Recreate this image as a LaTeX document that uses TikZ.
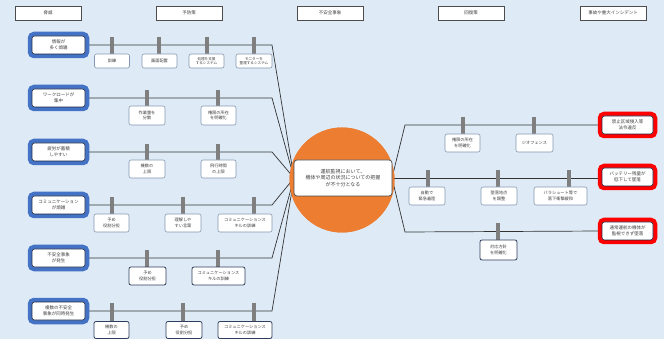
\documentclass[tikz,border=0pt]{standalone}
\usepackage{fontspec}
\setmainfont{Noto Sans CJK JP}
\usetikzlibrary{shadows}
\definecolor{bgC}{HTML}{DEEAF6}
\definecolor{blueC}{HTML}{4472C4}
\definecolor{redC}{HTML}{FF0000}
\definecolor{navyC}{HTML}{1F2A44}
\definecolor{orangeC}{HTML}{ED7D31}
\definecolor{barC}{HTML}{8497B0}
\definecolor{barD}{HTML}{2F3E5C}
\definecolor{txtC}{HTML}{404040}
\definecolor{stubC}{HTML}{7F7F7F}
\pgfdeclarelayer{bg}
\pgfsetlayers{bg,main}
\begin{document}
\begin{tikzpicture}[x=1pt,y=-1pt,
  every node/.style={inner sep=0pt, outer sep=0pt, align=center, text=txtC},
  hdr/.style={draw=black!70, fill=white, minimum width=66pt, minimum height=14pt,
    font=\fontsize{4.5}{5}\selectfont,
    drop shadow={shadow xshift=0.8pt, shadow yshift=-0.8pt, opacity=0.35}},
  threat/.style={fill=white, draw=navyC, line width=0.6pt, rounded corners=2.5pt,
    minimum width=53pt, minimum height=18pt, font=\fontsize{4.5}{6}\selectfont,
    preaction={draw=blueC, line width=8.5pt}},
  cons/.style={fill=white, draw=navyC, line width=0.6pt, rounded corners=2.5pt,
    minimum width=51pt, minimum height=18pt, font=\fontsize{4.5}{6}\selectfont,
    preaction={draw=redC, line width=8.5pt}},
  barrier/.style={fill=white, draw=barC, line width=0.6pt, rounded corners=2pt,
    minimum height=18pt, font=\fontsize{4.2}{5.8}\selectfont},
  barrierd/.style={barrier, draw=barD, line width=0.8pt},
  tline/.style={draw=black!80, line width=0.7pt},
  stub/.style={draw=stubC, line width=3.6pt}
]
\useasboundingbox (0,0) rectangle (664,339);

% headers
\node[hdr] (h1) at (48,13) {脅威};
\node[hdr] (h2) at (189,13) {予防策};
\node[hdr] (h3) at (330,13) {不安全事象};
\node[hdr] (h4) at (471,13) {回復策};
\node[hdr] (h5) at (613,13) {事故や重大インシデント};

% center
\node[circle, fill=orangeC, minimum size=105pt] (blob) at (342,180) {};
\node[fill=white, draw=black!70, line width=0.7pt, rounded corners=3pt,
  minimum width=98pt, minimum height=36pt, font=\fontsize{5}{6.5}\selectfont]
  (cbox) at (343,178) {運航監視において、\\機体や周辺の状況についての把握\\が不十分となる};

% threats
\node[threat] (t1) at (58.5,45) {情報が\\多く煩雑};
\node[threat] (t2) at (58.5,98) {ワークロードが\\集中};
\node[threat] (t3) at (58.5,152) {疲労が蓄積\\しやすい};
\node[threat] (t4) at (58.5,205) {コミュニケーション\\が煩雑};
\node[threat] (t5) at (58.5,258) {不安全事象\\が発生};
\node[threat] (t6) at (58.5,311) {複数の不安全\\事象が同時発生};

% left barriers
\node[barrier, minimum width=35pt, minimum height=14pt] (b11) at (112,61) {訓練};
\node[barrier, minimum width=35pt, minimum height=14pt] (b12) at (159.5,61) {画面配置};
\node[barrier, minimum width=35pt, minimum height=14pt, font=\fontsize{3.6}{4.6}\selectfont] (b13) at (206.5,61) {処理を支援\\するシステム};
\node[barrier, minimum width=36pt, minimum height=14pt, font=\fontsize{3.6}{4.6}\selectfont] (b14) at (254,61) {モニターを\\整理するシステム};

\node[barrier, minimum width=36pt, minimum height=19pt] (b21) at (147,115.5) {作業量を\\分散};
\node[barrier, minimum width=35pt, minimum height=19pt] (b22) at (218.5,115.5) {権限の所在\\を明確化};

\node[barrier, minimum width=36pt] (b31) at (147,169) {機数の\\上限};
\node[barrier, minimum width=35pt] (b32) at (218.5,169) {飛行時間\\の上限};

\node[barrier, minimum width=35pt] (b41) at (111.5,223) {予め\\役割分担};
\node[barrier, minimum width=36pt] (b42) at (183,223) {理解しや\\すい言葉};
\node[barrier, minimum width=54pt] (b43) at (245,223) {コミュニケーションス\\キルの訓練};

\node[barrierd, minimum width=37pt] (b51) at (147.5,276) {予め\\役割分担};
\node[barrierd, minimum width=53pt] (b52) at (218.5,276) {コミュニケーションス\\キルの訓練};

\node[barrierd, minimum width=35pt, minimum height=17pt] (b61) at (111.5,330) {機数の\\上限};
\node[barrierd, minimum width=36pt, minimum height=17pt] (b62) at (184,330) {予め\\役割分担};
\node[barrierd, minimum width=54pt, minimum height=17pt] (b63) at (245,330) {コミュニケーションス\\キルの訓練};

% right barriers
\node[barrier, minimum width=35pt] (r11) at (462.5,143) {権限の所在\\を明確化};
\node[barrier, minimum width=37pt] (r12) at (534.5,143) {ジオフェンス};
\node[barrier, minimum width=36pt] (r21) at (427,196) {自動で\\緊急着陸};
\node[barrier, minimum width=36pt] (r22) at (499,196) {墜落地点\\を調整};
\node[barrier, minimum width=53pt] (r23) at (560.5,196) {パラシュート等で\\落下衝撃緩和};
\node[barrierd, minimum width=37pt, minimum height=20pt] (r31) at (498.5,250) {対応方針\\を明確化};

% consequences
\node[cons] (c1) at (627.5,125) {禁止区域侵入等\\法令違反};
\node[cons] (c2) at (627.5,177) {バッテリー残量が\\低下して墜落};
\node[cons] (c3) at (627.5,231) {通常運航の機体が\\監視できず墜落};

% helper coordinates
\coordinate (k1) at (272,45);
\coordinate (k2) at (272,98);
\coordinate (k3) at (272,152);
\coordinate (k4) at (272,205);
\coordinate (k5) at (272,258);
\coordinate (k6) at (272,311);
\coordinate (kr1) at (405,125);
\coordinate (kr3) at (405,232);

\coordinate (s11) at (112,37);  \coordinate (s12) at (159,37);
\coordinate (s13) at (207,37);  \coordinate (s14) at (254,37);
\coordinate (s21) at (147,90);  \coordinate (s22) at (218,90);
\coordinate (s31) at (147,144); \coordinate (s32) at (218,144);
\coordinate (s41) at (112,197); \coordinate (s42) at (183,197); \coordinate (s43) at (254,197);
\coordinate (s51) at (147,250); \coordinate (s52) at (218,250);
\coordinate (s61) at (112,303); \coordinate (s62) at (183,303); \coordinate (s63) at (254,303);
\coordinate (q11) at (463,117); \coordinate (q12) at (534,117);
\coordinate (q21) at (428,170); \coordinate (q22) at (498,170); \coordinate (q23) at (569,170);
\coordinate (q31) at (498,223);

\begin{pgfonlayer}{bg}
\fill[bgC] (0,0) rectangle (664,339);
\fill[orangeC] (blob.center) circle[radius=52.5pt];
\draw[tline] (t1.east) -- (k1) -- (cbox.west);
\draw[tline] (t2.east) -- (k2) -- (cbox.west);
\draw[tline] (t3.east) -- (k3) -- (cbox.west);
\draw[tline] (t4.east) -- (k4) -- (cbox.west);
\draw[tline] (t5.east) -- (k5) -- (cbox.west);
\draw[tline] (t6.east) -- (k6) -- (cbox.west);
\draw[tline] (cbox.east) -- (kr1) -- (c1.west);
\draw[tline] (cbox.east) -- (cbox.east -| c2.west);
\draw[tline] (cbox.east) -- (kr3) -- (c3.west);
\foreach \s/\b in {s11/b11,s12/b12,s13/b13,s14/b14,s21/b21,s22/b22,s31/b31,s32/b32,
  s41/b41,s42/b42,s43/b43,s51/b51,s52/b52,s61/b61,s62/b62,s63/b63,
  q11/r11,q12/r12,q21/r21,q22/r22,q23/r23,q31/r31}
  \draw[stub] (\s) -- (\s |- \b.north);
\end{pgfonlayer}
\end{tikzpicture}
\end{document}
